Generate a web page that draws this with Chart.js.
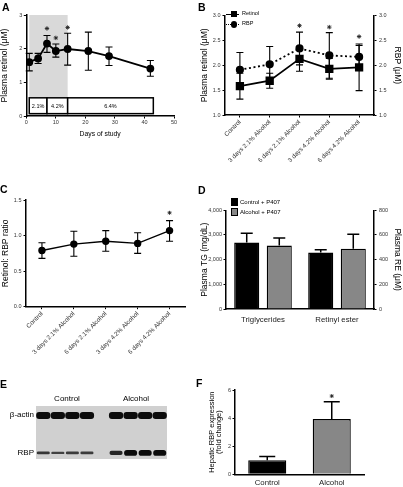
<!DOCTYPE html>
<html><head><meta charset="utf-8">
<script src="https://cdn.jsdelivr.net/npm/chart.js@4.4.1/dist/chart.umd.min.js"></script>
<style>
body{margin:0;background:#fff;width:403px;height:487px;overflow:hidden;position:relative;font-family:'Liberation Sans',Arial,sans-serif;color:#000}
canvas{position:absolute}
.t{position:absolute;line-height:1;white-space:nowrap;will-change:transform;-webkit-font-smoothing:antialiased}
.c{transform:translate(-50%,-50%)}
.r{transform:translate(-100%,-50%)}
.l{transform:translate(0,-50%)}
.p{font-weight:bold;font-size:10.5px}
</style></head><body>
<canvas id="cA" width="190" height="140" style="left:0;top:0"></canvas>
<canvas id="cB" width="203" height="175" style="left:200px;top:0"></canvas>
<canvas id="cC" width="200" height="190" style="left:0;top:180px"></canvas>
<canvas id="cD" width="203" height="145" style="left:200px;top:185px"></canvas>
<canvas id="cE" width="131" height="53" style="left:36px;top:406px;background:#d0d0d0"></canvas>
<canvas id="cF" width="203" height="107" style="left:200px;top:380px"></canvas>

<div class="t p l" style="left:1.5px;top:6.5px">A</div>
<div class="t p l" style="left:198px;top:7px">B</div>
<div class="t p l" style="left:0px;top:189px">C</div>
<div class="t p l" style="left:198px;top:190px">D</div>
<div class="t p l" style="left:0px;top:384px">E</div>
<div class="t p l" style="left:196px;top:383px">F</div>

<!-- legend B -->
<div style="position:absolute;left:226px;top:13.5px;width:13px;height:0;border-top:1.5px solid #000"></div>
<div style="position:absolute;left:231px;top:11px;width:6px;height:6px;background:#000"></div>
<div class="t l" style="left:242px;top:14.3px;font-size:5.5px" id="legB1"></div>
<div style="position:absolute;left:226px;top:23.5px;width:13px;height:0;border-top:1.5px dotted #000"></div>
<div style="position:absolute;left:230.5px;top:21px;width:6.5px;height:6.5px;border-radius:50%;background:#000"></div>
<div class="t l" style="left:242px;top:24.3px;font-size:5.5px" id="legB2"></div>

<!-- legend D -->
<div style="position:absolute;left:230.5px;top:198px;width:5.5px;height:5.5px;background:#000;border:1px solid #000"></div>
<div class="t l" style="left:240px;top:201.7px;font-size:6px" id="legD1"></div>
<div style="position:absolute;left:230.5px;top:208px;width:5.5px;height:5.5px;background:#878787;border:1px solid #000"></div>
<div class="t l" style="left:240px;top:211.7px;font-size:6px" id="legD2"></div>

<!-- blot labels -->
<div class="t c" style="left:67px;top:398.5px;font-size:8px" id="eC"></div>
<div class="t c" style="left:136px;top:398.5px;font-size:8px" id="eA"></div>
<div class="t r" style="left:33.5px;top:414.5px;font-size:8px">β-actin</div>
<div class="t r" style="left:33.5px;top:453.4px;font-size:8px">RBP</div>

<script>
// ---------------- DATA ----------------
// Panel A
const daysA = [1, 4, 7, 10, 14, 21, 28, 42];
const retinolA = [1.60, 1.71, 2.15, 1.93, 1.99, 1.93, 1.78, 1.41];
const retinolA_lo = [1.34, 1.56, 1.89, 1.75, 1.51, 1.36, 1.50, 1.18];
const retinolA_hi = [1.86, 1.86, 2.39, 2.14, 2.46, 2.49, 2.05, 1.65];
const starsA_x = [7, 10, 14];
const starsA_y = [2.60, 2.32, 2.63];
const shadeA = [1, 14];
const regimenLabels = ['2.1%', '4.2%', '6.4%'];
const regimenStart = [1, 7, 14];
const regimenEnd = [7, 14, 43];
const regimenBand = [0.07, 0.54];

// Panels B and C
const groupLabels = ['Control', '3 days 2.1% Alcohol', '6 days 2.1% Alcohol', '3 days 4.2% Alcohol', '6 days 4.2% Alcohol'];
const retinolB = [1.58, 1.69, 2.13, 1.93, 1.96];
const retinolB_lo = [1.32, 1.54, 1.88, 1.72, 1.49];
const retinolB_hi = [1.84, 1.84, 2.38, 2.14, 2.43];
const rbpB = [1.91, 2.02, 2.34, 2.20, 2.17];
const rbpB_lo = [1.55, 1.66, 2.01, 1.74, 1.94];
const rbpB_hi = [2.26, 2.38, 2.67, 2.66, 2.40];
const starsB = [null, null, 2.80, 2.77, 2.58];
const ratioC = [0.79, 0.88, 0.92, 0.89, 1.07];
const ratioC_lo = [0.68, 0.71, 0.78, 0.75, 0.92];
const ratioC_hi = [0.90, 1.06, 1.07, 1.04, 1.21];
const starsC = [null, null, null, null, 1.32];

// Panel D
const groupsD = ['Triglycerides', 'Retinyl ester'];
const seriesD = ['Control + P407', 'Alcohol + P407'];
const tgD = [2690, 2570];          // mg/dL (control, alcohol)
const tgD_hi = [3070, 2880];
const reD = [457, 489];            // µM (control, alcohol)
const reD_hi = [481, 605];

// Panel E (western blot band signal per lane)
const blotGroups = ['Control', 'Alcohol'];
const blotLanes = ['C1', 'C2', 'C3', 'C4', '', 'A1', 'A2', 'A3', 'A4'];
const actinSignal = [1, 1, 1, 1, null, 1, 1, 1, 1];
const rbpSignal = [0.5, 0.4, 0.45, 0.45, null, 0.7, 1, 1, 1];
const bandRf = { actin: 0.18, rbp: 0.885 };

// Panel F
const groupsF = ['Control', 'Alcohol'];
const foldF = [1.0, 3.93];
const foldF_hi = [1.26, 5.17];
const starsF = [null, 5.57];

// ---------------- helpers ----------------
Chart.defaults.font.family = "'Liberation Sans', Arial, sans-serif";
Chart.defaults.color = '#222';
Chart.defaults.animation = false;
Chart.defaults.plugins.legend.display = false;
Chart.defaults.plugins.tooltip.enabled = false;

document.getElementById('legB1').textContent = 'Retinol';
document.getElementById('legB2').textContent = 'RBP';
document.getElementById('legD1').textContent = seriesD[0];
document.getElementById('legD2').textContent = seriesD[1];
document.getElementById('eC').textContent = blotGroups[0];
document.getElementById('eA').textContent = blotGroups[1];

const errorBars = {
  id: 'errorBars',
  afterDatasetsDraw(chart) {
    const ctx = chart.ctx;
    chart.data.datasets.forEach((ds, i) => {
      if (!ds.errHigh) return;
      const meta = chart.getDatasetMeta(i);
      const vs = meta.vScale;
      ctx.save();
      ctx.strokeStyle = '#000';
      ctx.lineWidth = ds.errLineWidth || 1.2;
      const cap = ds.errCap || 7;
      meta.data.forEach((el, j) => {
        const hi = ds.errHigh[j];
        const v = ds.data[j];
        const val = (v !== null && typeof v === 'object') ? v.y : v;
        if (hi == null || val == null) return;
        const lo = ds.errLow ? ds.errLow[j] : val;
        const x = el.x;
        const yh = vs.getPixelForValue(hi), yl = vs.getPixelForValue(lo);
        ctx.beginPath();
        ctx.moveTo(x, yl); ctx.lineTo(x, yh);
        ctx.moveTo(x - cap / 2, yh); ctx.lineTo(x + cap / 2, yh);
        if (ds.errLow) { ctx.moveTo(x - cap / 2, yl); ctx.lineTo(x + cap / 2, yl); }
        ctx.stroke();
      });
      ctx.restore();
    });
  }
};

function axisStyle(o) {
  const base = {
    border: { display: true, color: '#000', width: 1.5 },
    grid: { display: true, drawOnChartArea: false, drawTicks: true, tickLength: 2.5, color: '#000', lineWidth: 1 },
    ticks: { color: '#333', font: { size: 5.5 }, padding: 1.5 }
  };
  for (const k in o) {
    if (typeof o[k] === 'object' && base[k] && !Array.isArray(o[k])) base[k] = Object.assign({}, base[k], o[k]);
    else base[k] = o[k];
  }
  return base;
}
const fixW = w => (s) => { s.width = w; };
const fixH = h => (s) => { s.height = h; };

// ---------------- Panel A ----------------
const regimenPlugin = {
  id: 'regimen',
  beforeDraw(chart) {
    const { ctx, scales: { x, y } } = chart;
    ctx.save();
    ctx.fillStyle = '#d9d9d9';
    const x0 = x.getPixelForValue(shadeA[0]), x1 = x.getPixelForValue(shadeA[1]);
    const yt = y.getPixelForValue(y.max), yb = y.getPixelForValue(y.min);
    ctx.fillRect(x0, yt, x1 - x0, yb - yt);
    const b0 = y.getPixelForValue(regimenBand[1]), b1 = y.getPixelForValue(regimenBand[0]);
    ctx.lineWidth = 1.5;
    ctx.strokeStyle = '#000';
    ctx.font = "5.5px 'Liberation Sans', Arial, sans-serif";
    ctx.textAlign = 'center';
    ctx.textBaseline = 'middle';
    regimenLabels.forEach((lab, i) => {
      const a = x.getPixelForValue(regimenStart[i]), b = x.getPixelForValue(regimenEnd[i]);
      ctx.fillStyle = '#fff';
      ctx.fillRect(a, b0, b - a, b1 - b0);
      ctx.strokeRect(a, b0, b - a, b1 - b0);
      ctx.fillStyle = '#000';
      ctx.fillText(lab, (a + b) / 2, (b0 + b1) / 2 + 0.5);
    });
    ctx.restore();
  }
};

new Chart(document.getElementById('cA'), {
  type: 'scatter',
  data: {
    datasets: [{
      data: daysA.map((d, i) => ({ x: d, y: retinolA[i] })),
      showLine: true, borderColor: '#000', borderWidth: 1.8, tension: 0,
      pointStyle: 'circle', pointRadius: 3, pointBackgroundColor: '#000', pointBorderColor: '#000',
      errLow: retinolA_lo, errHigh: retinolA_hi, errCap: 7, errLineWidth: 1.1
    }, {
      data: starsA_x.map((d, i) => ({ x: d, y: starsA_y[i] })),
      showLine: false, pointStyle: 'star', pointRadius: 2.2, borderColor: '#222', borderWidth: 0.9
    }]
  },
  options: {
    responsive: false, devicePixelRatio: 1,
    layout: { padding: { top: 15, right: 16, left: 0, bottom: 0 } },
    scales: {
      x: axisStyle({ type: 'linear', min: 0, max: 50, ticks: { stepSize: 10, font: { size: 5.5 }, color: '#333', padding: 1 },
        title: { display: true, text: 'Days of study', font: { size: 6.8 }, color: '#000', padding: { top: 0, bottom: 2 } },
        afterFit: fixH(24) }),
      y: axisStyle({ min: 0, max: 3, ticks: { stepSize: 1, font: { size: 5.5 }, color: '#333', padding: 1.5 },
        title: { display: true, text: 'Plasma retinol (μM)', font: { size: 8.5 }, color: '#000', padding: { top: 0, bottom: 0 } },
        afterFit: fixW(26.3) })
    }
  },
  plugins: [regimenPlugin, errorBars]
});

// ---------------- Panel B ----------------
const catX = (h) => axisStyle({
  type: 'category', offset: true,
  grid: { offset: false },
  ticks: { minRotation: 45, maxRotation: 45, font: { size: 6.3 }, color: '#333', padding: 1 },
  afterFit: fixH(h)
});
new Chart(document.getElementById('cB'), {
  type: 'line',
  data: {
    labels: groupLabels,
    datasets: [{
      label: 'RBP', data: rbpB, yAxisID: 'y2',
      borderColor: '#000', borderWidth: 1.8, borderDash: [2, 2.6], tension: 0,
      pointStyle: 'circle', pointRadius: 3.2, pointBackgroundColor: '#000', pointBorderColor: '#000',
      errLow: rbpB_lo, errHigh: rbpB_hi, errCap: 7, errLineWidth: 1.1
    }, {
      label: 'Retinol', data: retinolB, yAxisID: 'y',
      borderColor: '#000', borderWidth: 1.8, tension: 0,
      pointStyle: 'rect', pointRadius: 4.6, pointBackgroundColor: '#000', pointBorderColor: '#000',
      errLow: retinolB_lo, errHigh: retinolB_hi, errCap: 7, errLineWidth: 1.1
    }, {
      data: starsB, yAxisID: 'y', showLine: false,
      pointStyle: 'star', pointRadius: 2.2, borderColor: '#222', borderWidth: 0.9
    }]
  },
  options: {
    responsive: false, devicePixelRatio: 1,
    layout: { padding: { top: 15.7, right: 0, left: 0, bottom: 0 } },
    scales: {
      x: catX(60),
      y: axisStyle({ min: 1, max: 3, ticks: { stepSize: 0.5, callback: v => v.toFixed(1), font: { size: 5.5 }, color: '#333', padding: 2 },
        title: { display: true, text: 'Plasma retinol (μM)', font: { size: 8.5 }, color: '#000', padding: { top: 0, bottom: 0 } },
        afterFit: fixW(25) }),
      y2: axisStyle({ position: 'right', min: 1, max: 3, ticks: { stepSize: 0.5, callback: v => v.toFixed(1), font: { size: 5.5 }, color: '#333', padding: 2.5 },
        title: { display: true, text: 'RBP (μM)', font: { size: 8.5 }, color: '#000', padding: { top: 1, bottom: 0 } },
        afterFit: fixW(29) })
    }
  },
  plugins: [errorBars]
});

// ---------------- Panel C ----------------
new Chart(document.getElementById('cC'), {
  type: 'line',
  data: {
    labels: groupLabels,
    datasets: [{
      data: ratioC, borderColor: '#000', borderWidth: 1.4, tension: 0,
      pointStyle: 'circle', pointRadius: 3, pointBackgroundColor: '#000', pointBorderColor: '#000',
      errLow: ratioC_lo, errHigh: ratioC_hi, errCap: 7, errLineWidth: 1.1
    }, {
      data: starsC, showLine: false, pointStyle: 'star', pointRadius: 2, borderColor: '#222', borderWidth: 0.9
    }]
  },
  options: {
    responsive: false, devicePixelRatio: 1,
    layout: { padding: { top: 20, right: 14.5, left: 0, bottom: 0 } },
    scales: {
      x: catX(63.3),
      y: axisStyle({ min: 0, max: 1.5, ticks: { stepSize: 0.5, callback: v => v.toFixed(1), font: { size: 5.5 }, color: '#333', padding: 2 },
        title: { display: true, text: 'Retinol: RBP ratio', font: { size: 8.5 }, color: '#000', padding: { top: 0.5, bottom: 0 } },
        afterFit: fixW(26) })
    }
  },
  plugins: [errorBars]
});

// ---------------- Panel D ----------------
const grayFill = '#878787';
new Chart(document.getElementById('cD'), {
  type: 'bar',
  data: {
    labels: groupsD,
    datasets: [
      { label: seriesD[0], data: [tgD[0], null], yAxisID: 'y', backgroundColor: '#000', errHigh: [tgD_hi[0], null] },
      { label: seriesD[1], data: [tgD[1], null], yAxisID: 'y', backgroundColor: grayFill, errHigh: [tgD_hi[1], null] },
      { label: seriesD[0], data: [null, reD[0]], yAxisID: 'y2', backgroundColor: '#000', errHigh: [null, reD_hi[0]] },
      { label: seriesD[1], data: [null, reD[1]], yAxisID: 'y2', backgroundColor: grayFill, errHigh: [null, reD_hi[1]] }
    ].map(d => Object.assign(d, { borderColor: '#000', borderWidth: 1.3, borderSkipped: 'bottom', skipNull: true,
      categoryPercentage: 0.88, barPercentage: 0.77, errCap: 12, errLineWidth: 1.5 }))
  },
  options: {
    responsive: false, devicePixelRatio: 1,
    layout: { padding: { top: 25.3, right: 0, left: 0, bottom: 0 } },
    scales: {
      x: axisStyle({ grid: { display: false, drawTicks: false }, ticks: { font: { size: 7.8 }, color: '#222', padding: 6 }, afterFit: fixH(21) }),
      y: axisStyle({ min: 0, max: 4000, ticks: { stepSize: 1000, font: { size: 5.5 }, color: '#333', padding: 1.5 },
        title: { display: true, text: 'Plasma TG (mg/dL)', font: { size: 8.5 }, color: '#000', padding: { top: 0, bottom: 0 } },
        afterFit: fixW(26) }),
      y2: axisStyle({ position: 'right', min: 0, max: 800, ticks: { stepSize: 200, font: { size: 5.5 }, color: '#333', padding: 2.5 },
        title: { display: true, text: 'Plasma RE (μM)', font: { size: 8.5 }, color: '#000', padding: { top: 1, bottom: 0 } },
        afterFit: fixW(29) })
    }
  },
  plugins: [errorBars]
});

// ---------------- Panel E (blot) ----------------
const band = (sig, rf, half) => sig.map(s => s == null ? null : [rf - half * s, rf + half * s]);
const bandColor = sig => sig.map(s => s == null ? 'rgba(0,0,0,0)' : `rgba(12,12,12,${0.55 + 0.45 * s})`);
new Chart(document.getElementById('cE'), {
  type: 'bar',
  data: {
    labels: blotLanes,
    datasets: [
      { data: band(actinSignal, bandRf.actin, 0.065), backgroundColor: bandColor(actinSignal), barPercentage: 0.98 },
      { data: band(rbpSignal, bandRf.rbp, 0.055), backgroundColor: bandColor(rbpSignal), barPercentage: 0.9 }
    ].map(d => Object.assign(d, { grouped: false, categoryPercentage: 1, borderRadius: 3, borderSkipped: false, borderWidth: 0 }))
  },
  options: {
    responsive: false, devicePixelRatio: 1,
    layout: { padding: 0 },
    scales: {
      x: { display: false, offset: true },
      y: { display: false, min: 0, max: 1, reverse: true }
    }
  }
});

// ---------------- Panel F ----------------
new Chart(document.getElementById('cF'), {
  type: 'bar',
  data: {
    labels: groupsF,
    datasets: [{
      data: foldF, backgroundColor: ['#000', grayFill], borderColor: '#000', borderWidth: 1.3, borderSkipped: 'bottom',
      barPercentage: 0.59, categoryPercentage: 1, errHigh: foldF_hi, errCap: 16, errLineWidth: 1.5
    }, {
      type: 'line', data: starsF, showLine: false, pointStyle: 'star', pointRadius: 2, borderColor: '#222', borderWidth: 0.9
    }]
  },
  options: {
    responsive: false, devicePixelRatio: 1,
    layout: { padding: { top: 10, right: 39, left: 0, bottom: 0 } },
    scales: {
      x: axisStyle({ grid: { display: false, drawTicks: false }, ticks: { font: { size: 7.8 }, color: '#222', padding: 4 }, afterFit: fixH(12.7) }),
      y: axisStyle({ min: 0, max: 6, ticks: { stepSize: 2, font: { size: 5.5 }, color: '#333', padding: 1.5 },
        title: { display: true, text: ['Hepatic RBP expression', '(fold change)'], font: { size: 7.5, lineHeight: 0.9 }, color: '#000', padding: { top: 8.6, bottom: 0 } },
        afterFit: fixW(35) })
    }
  },
  plugins: [errorBars]
});
</script>
</body></html>
